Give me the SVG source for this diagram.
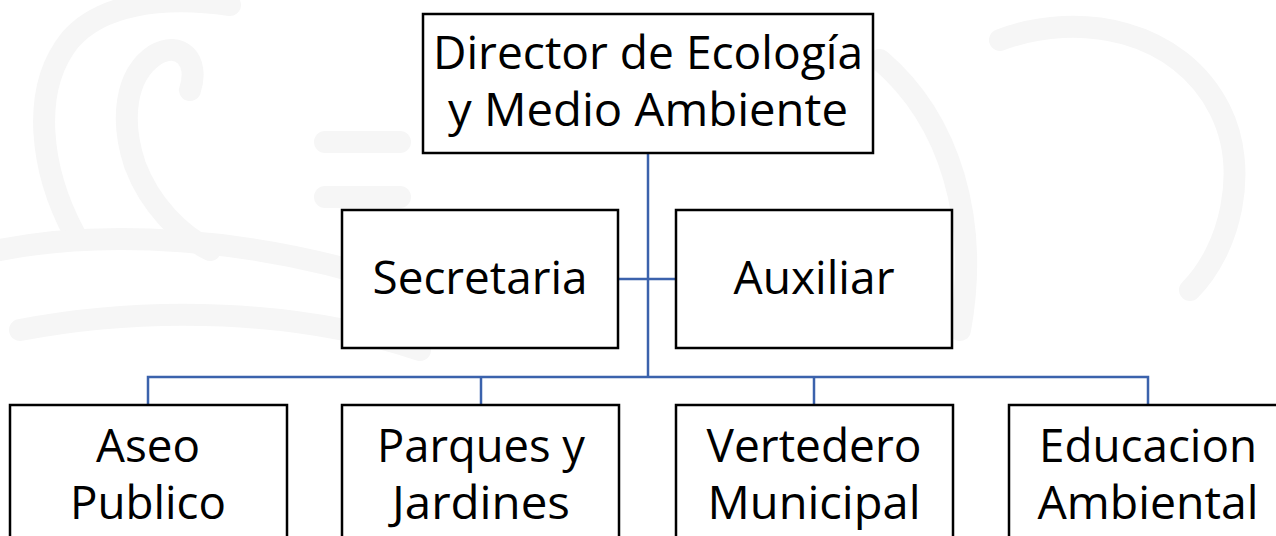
<svg xmlns="http://www.w3.org/2000/svg" width="1276" height="536" viewBox="0 0 1276 536">
<style>
.bg{fill:none;stroke:#f6f6f6;stroke-width:22;stroke-linecap:round}
.box{fill:#ffffff;stroke:#000000;stroke-width:2.5}
.lbl{font-family:"Open Sans","Liberation Sans",sans-serif;font-size:45px;fill:#000000;text-anchor:middle}
.con{fill:none;stroke:#3B62AC;stroke-width:2.5}
</style>
<rect width="1276" height="536" fill="#ffffff"/>
<g id="watermark">
<path class="bg" d="M75,235 C40,170 30,90 70,40 C100,5 160,-5 230,5"/>
<path class="bg" d="M190,90 C200,60 180,40 155,55 C125,75 120,120 135,165 C150,205 180,235 210,250"/>
<path class="bg" d="M0,250 C100,230 250,235 400,285"/>
<path class="bg" d="M20,330 C150,305 300,310 420,350"/>
<path class="bg" d="M325,142 L400,142"/>
<path class="bg" d="M325,197 L400,197"/>
<path class="bg" d="M1000,40 C1080,10 1180,30 1220,110 C1250,170 1230,250 1190,290"/>
<path class="bg" d="M880,60 C950,120 980,220 960,330"/>
</g>
<g id="connectors">
<path class="con" d="M648,153 V377"/>
<path class="con" d="M618,279 H676"/>
<path class="con" d="M148,405 V377 H1148 V405"/>
<path class="con" d="M481,377 V405"/>
<path class="con" d="M814,377 V405"/>
</g>
<g id="director">
<rect class="box" x="423" y="14" width="450" height="139"/>
<text class="lbl" x="648" y="69" textLength="430" lengthAdjust="spacingAndGlyphs">Director de Ecología</text>
<text class="lbl" x="648" y="126" textLength="400" lengthAdjust="spacingAndGlyphs">y Medio Ambiente</text>
</g>
<g id="secretaria">
<rect class="box" x="342" y="210" width="276" height="138"/>
<text class="lbl" x="480" y="294" textLength="215" lengthAdjust="spacingAndGlyphs">Secretaria</text>
</g>
<g id="auxiliar">
<rect class="box" x="676" y="210" width="276" height="138"/>
<text class="lbl" x="814" y="294" textLength="161" lengthAdjust="spacingAndGlyphs">Auxiliar</text>
</g>
<g id="aseo">
<rect class="box" x="10" y="405" width="277" height="150"/>
<text class="lbl" x="148" y="462" textLength="104" lengthAdjust="spacingAndGlyphs">Aseo</text>
<text class="lbl" x="148" y="519" textLength="156" lengthAdjust="spacingAndGlyphs">Publico</text>
</g>
<g id="parques">
<rect class="box" x="342" y="405" width="277" height="150"/>
<text class="lbl" x="481" y="462" textLength="208" lengthAdjust="spacingAndGlyphs">Parques y</text>
<text class="lbl" x="481" y="519" textLength="178" lengthAdjust="spacingAndGlyphs">Jardines</text>
</g>
<g id="vertedero">
<rect class="box" x="676" y="405" width="277" height="150"/>
<text class="lbl" x="814" y="462" textLength="215" lengthAdjust="spacingAndGlyphs">Vertedero</text>
<text class="lbl" x="814" y="519" textLength="213" lengthAdjust="spacingAndGlyphs">Municipal</text>
</g>
<g id="educacion">
<rect class="box" x="1009" y="405" width="277" height="150"/>
<text class="lbl" x="1148" y="462" textLength="218" lengthAdjust="spacingAndGlyphs">Educacion</text>
<text class="lbl" x="1148" y="519" textLength="221" lengthAdjust="spacingAndGlyphs">Ambiental</text>
</g>
</svg>
